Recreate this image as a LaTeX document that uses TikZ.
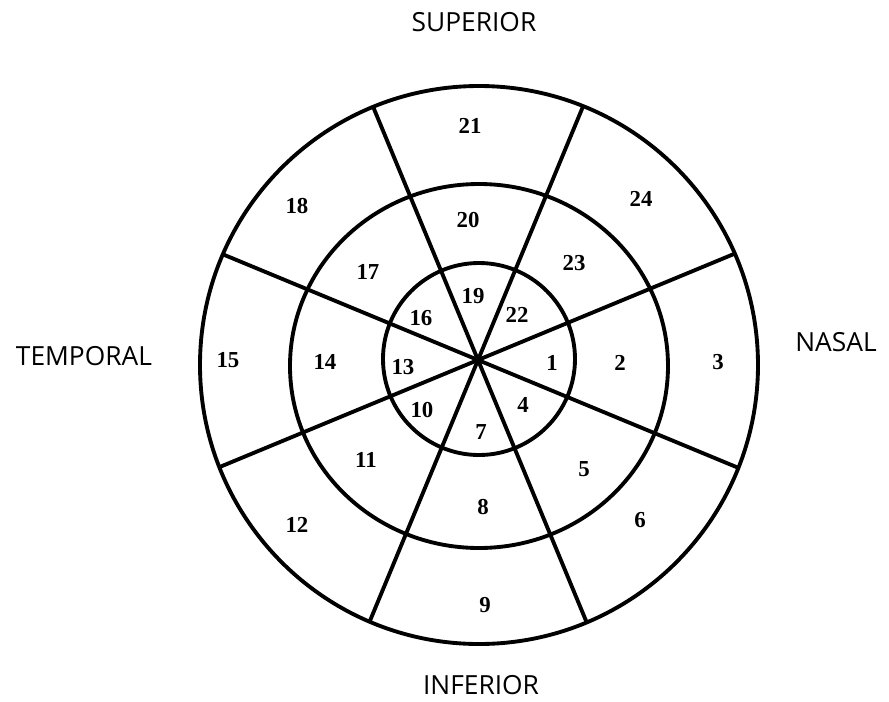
\documentclass[tikz,border=0pt]{standalone}
\usepackage{fontspec}
\setmainfont{Liberation Serif}
\newfontfamily\dirfont{Open Sans}
\usepackage{tikz}
\usetikzlibrary{positioning}

\begin{document}
\begin{tikzpicture}[
  x=0.02cm, y=0.02cm,
  ring/.style={line width=2.2pt, draw=black},
  spoke/.style={line width=2.2pt, draw=black},
  num/.style={font=\fontsize{13}{13}\selectfont\bfseries, inner sep=0pt},
  side/.style={font=\dirfont\fontsize{15}{15}\selectfont, inner sep=0pt}
]
\useasboundingbox (-478,-341) rectangle (411,360);
% centres
\coordinate (hub) at (0,0);
\coordinate (co) at (1,-5);
\coordinate (cm) at (1,-6);
\coordinate (ci) at (1,1);
% spokes, cut at the outer ring
\begin{scope}
  \clip (co) circle (279);
  \foreach \a in {22.5,67.5,...,337.5}
    \draw[spoke] (hub) -- ++(\a:320);
\end{scope}
% rings
\draw[ring] (co) circle (279);
\draw[ring] (cm) ellipse (189 and 182);
\draw[ring] (ci) circle (96);
% sector numbers
\foreach \n/\x/\y in {1/74/-3, 2/142/-3, 3/240/-2, 4/45/-45, 5/106/-109,
    6/162/-160, 7/3/-72, 8/5/-147, 9/7/-245, 10/-56/-50, 11/-112/-100,
    12/-181/-165, 13/-75/-7, 14/-153/-2, 15/-250/0, 16/-57/42, 17/-110/88,
    18/-181/154, 19/-5/64, 20/-10/140, 21/-8/234, 22/39/45, 23/96/97,
    24/163/161}
  \node[num] (s\n) at (\x,\y) {\n};
% directions
\node[side] (sup) at (-4,338) {SUPERIOR};
\node[side] (inf) at (3,-325) {INFERIOR};
\node[side] (tmp) at (-394,4) {TEMPORAL};
\node[side] (nas) at (358,18) {NASAL};
\end{tikzpicture}
\end{document}
